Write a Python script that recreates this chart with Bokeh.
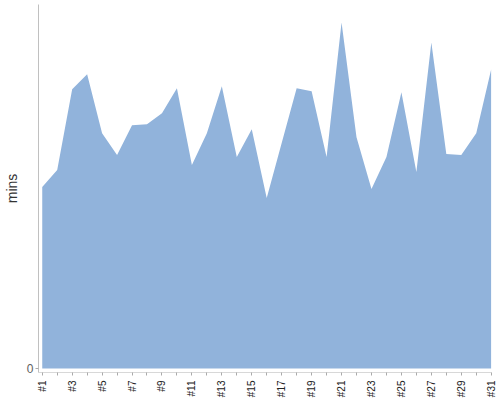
import math
from bokeh.plotting import figure
from bokeh.models import FixedTicker, Range1d
from bokeh.embed import file_html
from bokeh.resources import INLINE

days = list(range(1, 32))
tick_labels = ["#%d" % d for d in days]
mins = [18.2, 19.9, 28.0, 29.5, 23.6, 21.4, 24.4, 24.5, 25.6, 28.1,
        20.4, 23.6, 28.3, 21.2, 24.0, 17.1, 22.6, 28.1, 27.8, 21.2,
        34.7, 23.2, 18.0, 21.2, 27.7, 19.7, 32.7, 21.5, 21.4, 23.6, 30.0]

p = figure(width=500, height=400, output_backend="svg", toolbar_location=None,
           x_range=Range1d(0.75, 31.02), y_range=Range1d(-0.4, 36.5),
           min_border_left=38, min_border_right=9, min_border_top=4, min_border_bottom=27)

p.varea(x=days, y1=[0] * len(days), y2=mins, fill_color="#91b3db", fill_alpha=1.0)

p.grid.visible = False
p.outline_line_color = None
p.background_fill_color = "white"
p.border_fill_color = "white"

FONT = "Liberation Sans"

xa = p.xaxis[0]
xa.axis_label = None
xa.ticker = FixedTicker(ticks=days)
xa.major_label_overrides = {d: (lab if d % 2 == 1 else "") for d, lab in zip(days, tick_labels)}
xa.major_label_orientation = math.pi / 2
xa.major_label_text_font = FONT
xa.major_label_text_font_size = "10px"
xa.major_label_text_color = "#222222"
xa.major_label_standoff = 5
xa.axis_line_color = "#d8d8d8"
xa.major_tick_line_color = "#aaaaaa"
xa.major_tick_in = 0
xa.major_tick_out = 3
xa.minor_tick_line_color = None

ya = p.yaxis[0]
ya.ticker = FixedTicker(ticks=[0])
ya.axis_label = "mins"
ya.axis_label_text_font = FONT
ya.axis_label_text_font_style = "normal"
ya.axis_label_text_font_size = "14px"
ya.axis_label_text_color = "#333333"
ya.axis_label_standoff = 4
ya.major_label_text_font = FONT
ya.major_label_text_font_size = "12px"
ya.major_label_text_color = "#606060"
ya.major_label_standoff = 2
ya.axis_line_color = "#c0c0c0"
ya.major_tick_line_color = "#aaaaaa"
ya.major_tick_in = 0
ya.major_tick_out = 3
ya.minor_tick_line_color = None

open("out.html", "w").write(file_html(p, INLINE))
